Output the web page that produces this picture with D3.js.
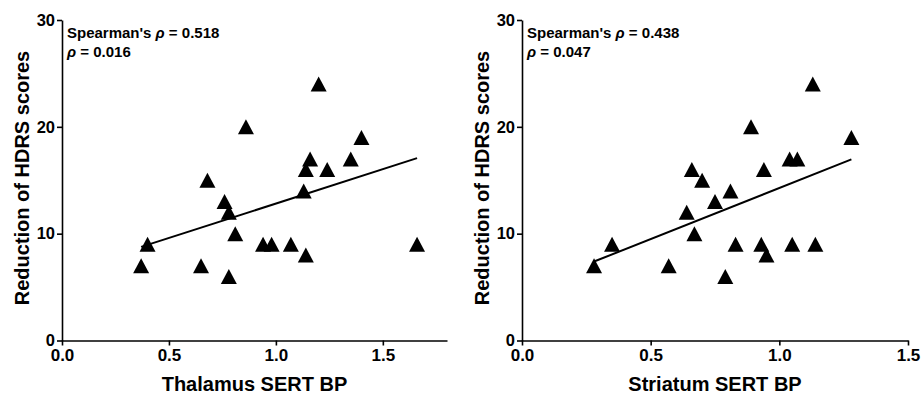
<!DOCTYPE html>
<html>
<head>
<meta charset="utf-8">
<script src="https://cdn.jsdelivr.net/npm/d3@7"></script>
<style>
  body { margin: 0; background: #fff; }
  text { font-family: "Liberation Sans", Arial, sans-serif; font-weight: bold; fill: #000; }
</style>
</head>
<body>
<div id="chart"></div>
<script>

// ======================= //
// DATA
// ======================= //

var thalamusX = [0.37, 0.40, 0.65, 0.68, 0.76, 0.78, 0.78, 0.81, 0.86, 0.94, 0.98, 1.07, 1.13, 1.14, 1.14, 1.16, 1.20, 1.24, 1.35, 1.40, 1.66]
var thalamusY = [7, 9, 7, 15, 13, 12, 6, 10, 20, 9, 9, 9, 14, 8, 16, 17, 24, 16, 17, 19, 9]

var striatumX = [0.28, 0.35, 0.57, 0.64, 0.66, 0.67, 0.70, 0.75, 0.79, 0.81, 0.83, 0.89, 0.93, 0.94, 0.95, 1.04, 1.05, 1.07, 1.13, 1.14, 1.28]
var striatumY = [7, 9, 7, 12, 16, 10, 15, 13, 6, 14, 9, 20, 9, 16, 8, 17, 9, 17, 24, 9, 19]

var yTicks = [0, 10, 20, 30]
var xTicks = [0, 0.5, 1.0, 1.5]

var panels = [
  { xs: thalamusX, ys: thalamusY, xMax: 1.8, xLabel: "Thalamus SERT BP", rho: "0.518", p: "0.016" },
  { xs: striatumX, ys: striatumY, xMax: 1.5, xLabel: "Striatum SERT BP", rho: "0.438", p: "0.047" }
]

// ======================= //
// SVG AREAS
// ======================= //

var W = 922, H = 394
var svg = d3.select("#chart")
  .append("svg")
    .attr("width", W)
    .attr("height", H)

// pixel placement of each panel
var boxes = [
  { left: 62, right: 447, top: 20, bottom: 340.5, titleX: 29 },
  { left: 522, right: 908, top: 20, bottom: 340.5, titleX: 489 }
]

// least squares fit
function fitLine(xs, ys) {
  var mx = d3.mean(xs), my = d3.mean(ys)
  var sxy = d3.sum(xs, function(d, i){ return (d - mx) * (ys[i] - my) })
  var sxx = d3.sum(xs, function(d){ return (d - mx) * (d - mx) })
  var b = sxy / sxx
  return { a: my - b * mx, b: b }
}

var tri = "M0,-7.5L8,7.5L-8,7.5Z"

panels.forEach(function(p, k){
  var box = boxes[k]
  var g = svg.append("g")

  var x = d3.scaleLinear().domain([0, p.xMax]).range([box.left, box.right])
  var y = d3.scaleLinear().domain([0, 30]).range([box.bottom, box.top])

  // Y axis
  var yAxis = g.append("g")
    .attr("transform", "translate(" + box.left + ",0)")
    .call(d3.axisLeft(y).tickValues(yTicks).tickSize(5).tickSizeOuter(0).tickPadding(2))
  yAxis.selectAll("text").style("font-size", "16.5px")
  yAxis.selectAll("line, path").style("stroke", "#000").style("stroke-width", 1.6)

  // X axis
  var xAxis = g.append("g")
    .attr("transform", "translate(0," + box.bottom + ")")
    .call(d3.axisBottom(x).tickValues(xTicks).tickFormat(d3.format(".1f")).tickSize(5).tickSizeOuter(0).tickPadding(3))
  xAxis.selectAll("text").style("font-size", "17px")
  xAxis.selectAll("line, path").style("stroke", "#000").style("stroke-width", 1.6)

  // axis titles
  g.append("text")
    .attr("x", (box.left + box.right) / 2)
    .attr("y", 391)
    .attr("text-anchor", "middle")
    .style("font-size", "20px")
    .text(p.xLabel)

  g.append("text")
    .attr("transform", "translate(" + box.titleX + ",178)rotate(-90)")
    .attr("text-anchor", "middle")
    .style("font-size", "20px")
    .text("Reduction of HDRS scores")

  // regression line
  var f = fitLine(p.xs, p.ys)
  var x0 = d3.min(p.xs), x1 = d3.max(p.xs)
  g.append("line")
    .attr("x1", x(x0)).attr("y1", y(f.a + f.b * x0))
    .attr("x2", x(x1)).attr("y2", y(f.a + f.b * x1))
    .style("stroke", "#000")
    .style("stroke-width", 2)

  // points
  g.selectAll("path.pt")
    .data(p.xs)
    .enter()
    .append("path")
      .attr("class", "pt")
      .attr("d", tri)
      .attr("transform", function(d, i){ return "translate(" + x(d) + "," + y(p.ys[i]) + ")" })
      .style("fill", "#000")

  // stats
  var t1 = g.append("text")
    .attr("x", box.left + 5)
    .attr("y", 38)
    .style("font-size", "15px")
  t1.append("tspan").text("Spearman's ")
  t1.append("tspan").style("font-style", "italic").text("ρ")
  t1.append("tspan").text(" = " + p.rho)

  var t2 = g.append("text")
    .attr("x", box.left + 5)
    .attr("y", 57)
    .style("font-size", "15px")
  t2.append("tspan").style("font-style", "italic").text("ρ")
  t2.append("tspan").text(" = " + p.p)
})

</script>
</body>
</html>
